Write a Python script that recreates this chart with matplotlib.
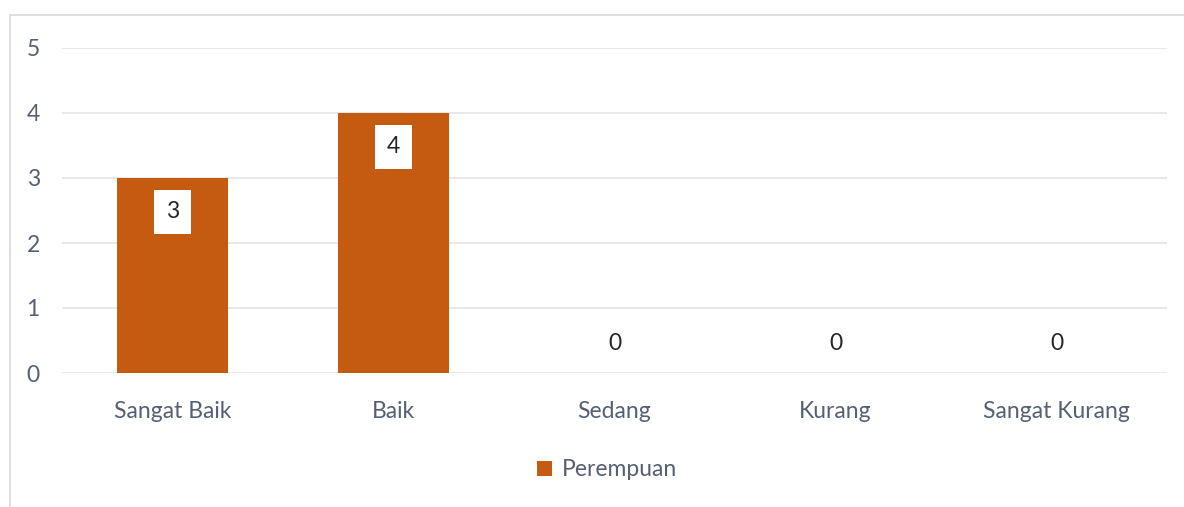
import matplotlib
matplotlib.use("Agg")
import matplotlib.pyplot as plt
from matplotlib.patches import Rectangle

categories = ["Sangat Baik", "Baik", "Sedang", "Kurang", "Sangat Kurang"]
values = [3, 4, 0, 0, 0]
series_name = "Perempuan"
yticks = [0, 1, 2, 3, 4, 5]

BAR = "#C55A11"
TXT = "#566074"
GRID = "#E1E4EA"

plt.rcParams['font.family'] = ['Lato', 'DejaVu Sans']

W, H = 1184, 507
fig = plt.figure(figsize=(W / 100, H / 100), dpi=100)
fig.patch.set_facecolor("white")

# outer chart border
fig.add_artist(Rectangle((10 / W, -0.05), 1.2, 1 - 15 / H + 0.05, transform=fig.transFigure,
                         fill=False, edgecolor="#D9D9D9", linewidth=1.2))

ax = fig.add_axes([62 / W, 1 - 373 / H, (1167 - 62) / W, (373 - 48) / H])
x = list(range(len(categories)))
bars = ax.bar(x, values, width=0.5, color=BAR, zorder=3)
ax.set_xlim(-0.5, len(categories) - 0.5)
ax.set_ylim(0, 5)
ax.set_yticks(yticks)
ax.set_yticklabels([str(t) for t in yticks])
ax.set_xticks(x)
ax.set_xticklabels(categories)
ax.tick_params(axis='both', length=0, colors=TXT, labelsize=16.5)
ax.tick_params(axis='y', pad=16)
ax.tick_params(axis='x', pad=20)
for s in ax.spines.values():
    s.set_visible(False)
ax.grid(axis='y', color=GRID, linewidth=1.2, zorder=0)
ax.set_axisbelow(True)

for xi, v in zip(x, values):
    if v > 0:
        ax.annotate(str(v), (xi, v), xytext=(0, -34), textcoords="offset pixels",
                    ha="center", va="center", fontsize=16.5, color="#262626", zorder=5,
                    bbox=dict(boxstyle="square,pad=0.5", facecolor="white", edgecolor="none"))
    else:
        ax.annotate(str(v), (xi, v), xytext=(0, 30), textcoords="offset pixels",
                    ha="center", va="center", fontsize=16.5, color="#262626", zorder=5)

leg = fig.legend([bars], [series_name], loc="center", bbox_to_anchor=(607 / W, 1 - 470 / H),
                 frameon=False, fontsize=16.5, handlelength=0.65, handleheight=0.65, handletextpad=0.4)
for t in leg.get_texts():
    t.set_color(TXT)

fig.savefig("out.png", dpi=100, facecolor="white")
